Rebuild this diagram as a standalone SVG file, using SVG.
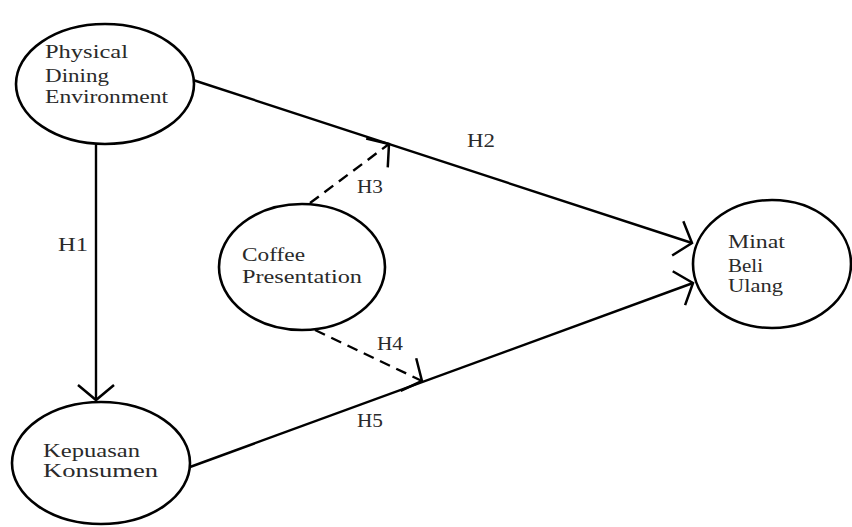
<svg xmlns="http://www.w3.org/2000/svg" width="852" height="527" viewBox="0 0 852 527">
<style>
.node ellipse{fill:#fff;stroke:#000;stroke-width:2.6}
.lbl{font-family:"Liberation Serif","Times New Roman",serif;font-size:18px;fill:#2a2a2a}
.edge{stroke:#000;stroke-width:2.4;fill:none}
.dash{stroke-dasharray:11,7}
</style>
<defs>
<marker id="arr" markerUnits="userSpaceOnUse" viewBox="-20 -22 24 44" markerWidth="24" markerHeight="44" refX="0" refY="0" orient="auto">
<path d="M -15 -18 L 0 0 L -15 18" fill="none" stroke="#000" stroke-width="2.5"/>
</marker>
</defs>
<rect width="852" height="527" fill="#fff"/>
<g id="connectors">
<line class="edge" x1="96" y1="145" x2="96" y2="400" marker-end="url(#arr)"/>
<line class="edge" x1="193" y1="80" x2="692" y2="243" marker-end="url(#arr)"/>
<line class="edge dash" x1="310" y1="203" x2="389" y2="144" marker-end="url(#arr)"/>
<line class="edge dash" x1="315" y1="330" x2="422" y2="381" marker-end="url(#arr)"/>
<line class="edge" x1="190" y1="467" x2="693" y2="283" marker-end="url(#arr)"/>
<text class="lbl" x="58" y="251" textLength="30" lengthAdjust="spacingAndGlyphs">H1</text>
<text class="lbl" x="467" y="147" textLength="28" lengthAdjust="spacingAndGlyphs">H2</text>
<text class="lbl" x="357" y="193" textLength="26" lengthAdjust="spacingAndGlyphs">H3</text>
<text class="lbl" x="377" y="350" textLength="26" lengthAdjust="spacingAndGlyphs">H4</text>
<text class="lbl" x="357" y="427" textLength="26" lengthAdjust="spacingAndGlyphs">H5</text>
</g>
<g id="physical-dining-environment" class="node">
<ellipse cx="105" cy="84" rx="89" ry="60"/>
<text class="lbl" x="45" y="58" textLength="83" lengthAdjust="spacingAndGlyphs">Physical</text>
<text class="lbl" x="45" y="82" textLength="64" lengthAdjust="spacingAndGlyphs">Dining</text>
<text class="lbl" x="45" y="103" textLength="123" lengthAdjust="spacingAndGlyphs">Environment</text>
</g>
<g id="kepuasan-konsumen" class="node">
<ellipse cx="101" cy="463" rx="89" ry="61"/>
<text class="lbl" x="43" y="457" textLength="97" lengthAdjust="spacingAndGlyphs">Kepuasan</text>
<text class="lbl" x="43" y="477" textLength="115" lengthAdjust="spacingAndGlyphs">Konsumen</text>
</g>
<g id="coffee-presentation" class="node">
<ellipse cx="302" cy="267" rx="83" ry="63"/>
<text class="lbl" x="242" y="261" textLength="63" lengthAdjust="spacingAndGlyphs">Coffee</text>
<text class="lbl" x="242" y="283" textLength="120" lengthAdjust="spacingAndGlyphs">Presentation</text>
</g>
<g id="minat-beli-ulang" class="node">
<ellipse cx="772" cy="264" rx="79" ry="64"/>
<text class="lbl" x="728" y="248" textLength="57" lengthAdjust="spacingAndGlyphs">Minat</text>
<text class="lbl" x="728" y="272" textLength="35" lengthAdjust="spacingAndGlyphs">Beli</text>
<text class="lbl" x="728" y="292" textLength="55" lengthAdjust="spacingAndGlyphs">Ulang</text>
</g>
</svg>
